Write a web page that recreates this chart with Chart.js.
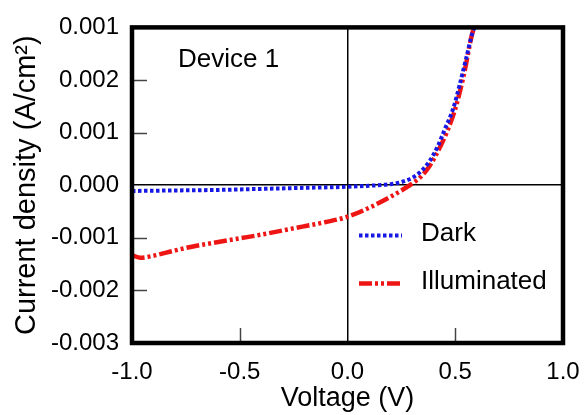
<!DOCTYPE html>
<html>
<head>
<meta charset="utf-8">
<script src="https://cdn.jsdelivr.net/npm/chart.js@4"></script>
<style>
  body { margin: 0; background: #fff; }
  #wrap { width: 585px; height: 415px; }
</style>
</head>
<body>
<div id="wrap"><canvas id="c"></canvas></div>
<script>
// values
let darkVoltage = [-1.0, -0.8, -0.6, -0.4, -0.2, 0.0, 0.1, 0.2, 0.25, 0.3, 0.34, 0.38, 0.42, 0.45, 0.49, 0.52, 0.55, 0.58, 0.59];
let darkCurrent = [-0.00011, -0.0001, -0.00009, -0.00007, -0.00005, -0.00003, -0.00001, 0.00002, 0.00006, 0.00014, 0.00026, 0.00045, 0.00075, 0.00105, 0.00145, 0.0019, 0.0024, 0.0029, 0.003];

let illumVoltage = [-1.0, -0.96, -0.9, -0.8, -0.7, -0.6, -0.5, -0.4, -0.3, -0.2, -0.1, 0.0, 0.1, 0.2, 0.25, 0.3, 0.34, 0.38, 0.42, 0.46, 0.5, 0.54, 0.58, 0.59];
let illumCurrent = [-0.00133, -0.00138, -0.00134, -0.00124, -0.00115, -0.00108, -0.00101, -0.00094, -0.00086, -0.00078, -0.0007, -0.0006, -0.00043, -0.00022, -0.0001, 0.00003, 0.00016, 0.00036, 0.00065, 0.001, 0.00145, 0.0021, 0.0029, 0.003];

// y tick labels as printed (top one reads 0.001 in the original)
let yTickLabels = ['-0.003', '-0.002', '-0.001', '0.000', '0.001', '0.002', '0.001'];

const FONT = '"Liberation Sans", Arial, sans-serif';

function toPoints(xs, ys) {
    return xs.map((x, i) => ({ x: x, y: ys[i] }));
}

// thick frame, inward ticks, legend and label
const decorations = {
    id: 'decorations',
    afterDatasetsDraw(chart) {
        const ctx = chart.ctx;
        const a = chart.chartArea;
        const xs = chart.scales.x, ys = chart.scales.y;
        ctx.save();

        // inward tick marks
        ctx.strokeStyle = '#444';
        ctx.lineWidth = 1.5;
        ys.ticks.forEach(t => {
            if (t.value === 0 || t.value <= ys.min || t.value >= ys.max) return;
            const p = Math.round(ys.getPixelForValue(t.value)) + 0.5;
            ctx.beginPath(); ctx.moveTo(a.left, p); ctx.lineTo(a.left + 15, p); ctx.stroke();
        });
        xs.ticks.forEach(t => {
            if (t.value === 0 || t.value <= xs.min || t.value >= xs.max) return;
            const p = Math.round(xs.getPixelForValue(t.value)) + 0.5;
            ctx.beginPath(); ctx.moveTo(p, a.bottom); ctx.lineTo(p, a.bottom - 15); ctx.stroke();
        });

        // frame
        ctx.strokeStyle = '#000';
        ctx.lineWidth = 4.5;
        ctx.strokeRect(a.left, a.top, a.right - a.left, a.bottom - a.top);

        // label
        ctx.fillStyle = '#000';
        ctx.font = '26px ' + FONT;
        ctx.textBaseline = 'middle';
        ctx.textAlign = 'left';
        ctx.fillText('Device 1', a.left + 46, a.top + 32);

        // legend
        chart.data.datasets.forEach((ds, i) => {
            const y = a.top + 208 + i * 48;
            ctx.strokeStyle = ds.borderColor;
            ctx.lineWidth = ds.borderWidth;
            ctx.setLineDash(ds.borderDash);
            ctx.beginPath(); ctx.moveTo(a.left + 227, y); ctx.lineTo(a.left + 270, y); ctx.stroke();
            ctx.setLineDash([]);
            ctx.fillText(ds.label, a.left + 289, y - 2);
        });
        ctx.restore();
    }
};

const zeroColor = c => (c.tick && c.tick.value === 0) ? '#000' : 'rgba(0,0,0,0)';

new Chart(document.getElementById('c'), {
    type: 'scatter',
    data: {
        datasets: [{
            label: 'Dark',
            data: toPoints(darkVoltage, darkCurrent),
            borderColor: '#1818e6',
            borderWidth: 4,
            borderDash: [3.5, 2.5],
            showLine: true,
            pointRadius: 0,
            cubicInterpolationMode: 'monotone'
        }, {
            label: 'Illuminated',
            data: toPoints(illumVoltage, illumCurrent),
            borderColor: '#ee1515',
            borderWidth: 4.5,
            borderDash: [13, 3, 3, 3, 3, 3],
            showLine: true,
            pointRadius: 0,
            cubicInterpolationMode: 'monotone'
        }]
    },
    options: {
        responsive: true,
        maintainAspectRatio: false,
        animation: false,
        layout: { padding: { left: 0, top: 23, right: 22, bottom: 0 } },
        plugins: { legend: { display: false }, tooltip: { enabled: false } },
        scales: {
            x: {
                type: 'linear',
                min: -1,
                max: 1,
                afterFit(scale) {
                    scale.height = 72;
                    scale.paddingRight = 0;
                    scale.paddingLeft = 0;
                },
                ticks: {
                    stepSize: 0.5,
                    color: '#000',
                    padding: 15,
                    font: { family: FONT, size: 24 },
                    callback: v => v.toFixed(1)
                },
                grid: { color: zeroColor, lineWidth: 1.5, drawTicks: false },
                border: { display: false },
                title: {
                    display: true,
                    text: 'Voltage (V)',
                    color: '#000',
                    font: { family: FONT, size: 27 },
                    padding: { top: 0, bottom: 0 }
                }
            },
            y: {
                min: -0.003,
                max: 0.003,
                afterFit(scale) { scale.width = 132; },
                ticks: {
                    stepSize: 0.001,
                    color: '#000',
                    padding: 13,
                    font: { family: FONT, size: 24 },
                    callback: (v, i) => yTickLabels[i]
                },
                grid: { color: zeroColor, lineWidth: 1.5, drawTicks: false },
                border: { display: false },
                title: {
                    display: true,
                    text: 'Current density (A/cm²)',
                    color: '#000',
                    font: { family: FONT, size: 29 },
                    padding: { top: 10, bottom: 0 }
                }
            }
        }
    },
    plugins: [decorations]
});
</script>
</body>
</html>
